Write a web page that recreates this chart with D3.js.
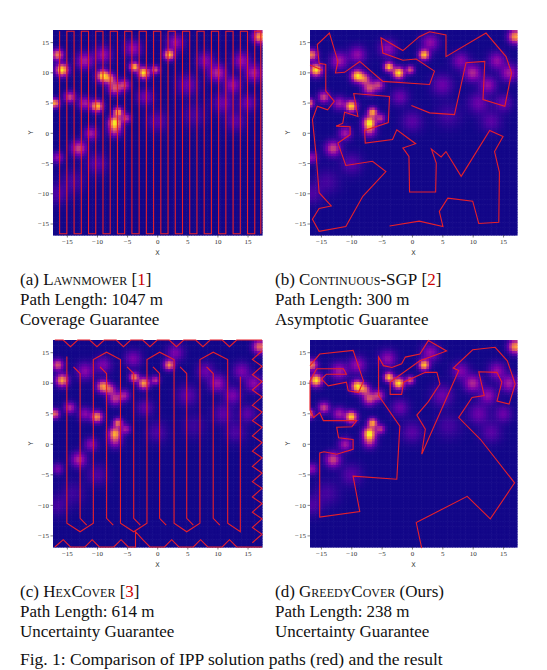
<!DOCTYPE html>
<html><head><meta charset="utf-8">
<script src="https://cdn.jsdelivr.net/npm/d3@7"></script>
<style>body{margin:0;background:#fff}svg{display:block}</style>
</head><body>
<script>
// ---- data ----
const ticks = [-15,-10,-5,0,5,10,15];
const blobX = [-15.8,-16.5,-17,-9,-7.8,-3.8,-2.2,-0.3,2,-10,-7,-6.5,-5.2,-7,-5.5,-13,-12,-14.5,-11,-7,-16.5,-12,-9,3,-4,10,12.5,14,16,17,8,5,11,15,-2,0,6,-14,-10,-16.5,13];
const blobY = [10.5,13,5,9.5,9,11,10,10.5,13,4.5,1.8,3.5,2.5,7.5,8,-2.5,12,6,0,0.5,-4,5,13,15,14,10,8,12,10,16,12,8,5,5,6,2,3,-8,-5,-10,2];
const blobA = [1,0.7,0.8,0.95,0.55,0.9,1,0.55,0.9,0.95,1,0.85,0.45,0.55,0.45,0.5,0.35,0.5,0.35,0.45,0.3,0.35,0.3,0.3,0.3,0.4,0.3,0.3,0.35,0.8,0.25,0.2,0.2,0.2,0.2,0.15,0.1,0.1,0.15,0.12,0.15];
const blobS = [0.65,0.6,0.5,0.65,0.6,0.5,0.6,0.45,0.55,0.6,0.65,0.5,0.5,0.7,0.6,0.8,0.9,0.6,0.7,0.7,0.6,0.7,0.9,0.9,0.9,0.9,0.9,0.9,0.9,0.7,0.9,1.1,1.1,0.9,0.9,1.1,1.3,1.3,1.1,1.1,1.1];

const lawnX = [-16.2,-15.0,-13.8,-12.6,-11.4,-10.2,-9.0,-7.8,-6.6,-5.4,-4.2,-3.0,-1.8,-0.6,0.6,1.8,3.0,4.2,5.4,6.6,7.8,9.0,10.2,11.4,12.6,13.8,15.0,16.2,17.2];
const lawnTop = 16.8, lawnBottom = -16.7;

const sgpPath = [[-0.1,4.5],[2.9,3.3],[7.0,3.0],[8.9,11.6],[12.0,11.8],[11.7,5.5],[15.3,4.4],[16.4,9.9],[15.5,12.6],[12.2,16.5],[5.6,12.6],[5.6,16.2],[2.9,16.7],[1.2,15.9],[-1.5,13.6],[-5.1,15.7],[-4.8,13.2],[-1.5,12.0],[0.7,12.2],[3.7,10.2],[2.9,8.0],[-4.8,8.5],[-8.6,11.8],[-11.1,10.0],[-12.6,9.9],[-12.2,11.8],[-13.6,16.5],[-15.6,14.6],[-15.3,11.5],[-14.2,11.3],[-14.2,6.9],[-12.8,5.2],[-13.9,3.8],[-15.6,4.4],[-16.4,2.2],[-15.8,-3.6],[-15.3,-9.9],[-13.3,-12.1],[-15.3,-12.5],[-16.4,-14.3],[-15.3,-16.3],[-10.9,-15.5],[-8.1,-10.5],[-4.3,-6.4],[-6.5,-4.7],[-10.9,-5.4],[-12.2,-1.7],[-10.2,-0.3],[-10.2,1.0],[-12.5,1.1],[-11.4,1.6],[-11.1,3.4],[-8.9,2.7],[-9.6,6.5],[-3.7,6.0],[-3.9,1.7],[-7.8,0.4],[-7.7,-1.7],[-3.2,-1.1],[-2.5,0.5],[0.6,-1.8],[-1.5,-2.5],[-0.5,-3.9],[-0.4,-9.8],[3.9,-9.8],[4.0,-5.0],[3.2,-2.7],[4.8,-4.0],[5.6,-3.1],[8.1,-7.2],[12.8,0.4],[15.0,-0.6],[13.6,-3.1],[14.4,-6.5],[14.3,-14.8],[11.0,-15.0],[10.0,-11.3],[5.9,-10.8],[4.5,-13.0],[5.1,-15.5],[1.2,-14.6],[-3.7,-15.4]];
const sgpExtra = [[-16.8,11.2],[-14.8,10.4]];

const hexOuter = [[-15,14.3],[-15,-13],[-12.8,-14.4],[-10.6,-13],[-10.6,13.8],[-8.4,15],[-6.1,13.8],[-6.1,-13],[-3.9,-14.4],[-1.7,-13],[-1.7,13.8],[0.4,15],[2.8,13.8],[2.8,-13],[4.9,-14.4],[7.1,-13],[7.1,13.8],[9.3,15],[11.7,13.8],[11.7,-13],[13.8,-14.4],[13.8,11]];
const hexInnerX = [-12.8,-8.4,-3.9,0.4,4.9,9.3];
const hexInnerTop = 11.5, hexInnerBottom = -12.2;
const hexTop = [[-17,17],[-15.6,17],[-14.4,15.9],[-13.2,17],[-11.2,17],[-10,15.9],[-8.8,17],[-6.8,17],[-5.6,15.9],[-4.4,17],[-2.4,17],[-1.2,15.9],[0,17],[2,17],[3.2,15.9],[4.4,17],[6.4,17],[7.6,15.9],[8.8,17],[10.8,17],[12,15.9],[13.2,17],[17.4,17]];
const hexBottom = [[-17,-16.9],[-15.6,-15.7],[-14.4,-16.9],[-12,-16.9],[-10.8,-15.7],[-9.6,-16.9],[-7.2,-16.9],[-6,-15.7],[-4.8,-16.9],[-3.6,-16.9],[-3.6,-14.4],[-2.4,-15.7],[-1.2,-16.9],[1.2,-16.9],[2.4,-15.7],[3.6,-16.9],[6,-16.9],[7.2,-15.7],[8.4,-16.9],[10.8,-16.9],[12,-15.7],[13.2,-16.9],[17.4,-16.9]];
const hexRight = [[17.4,15.2],[15.8,13.8],[17.4,12.7],[15.8,11.3],[17.4,10.2],[15.8,8.8],[17.4,7.7],[15.8,6.3],[17.4,5.2],[15.8,3.8],[17.4,2.7],[15.8,1.3],[17.4,0.2],[15.8,-1.2],[17.4,-2.3],[15.8,-3.7],[17.4,-4.8],[15.8,-6.2],[17.4,-7.3],[15.8,-8.7],[17.4,-9.8],[15.8,-11.2],[17.4,-12.3],[15.8,-13.7],[17.4,-14.8],[15.8,-16.2]];

const greedyPath = [[-16.8,12.8],[-15.2,14.7],[-9.7,15.3],[-8.0,10.3],[-8.8,8.4],[-10.5,8.7],[-10.8,10.1],[-13.8,9.5],[-14.9,10.6],[-14.1,11.4],[-10.8,11.4],[-11.3,12.3],[-15.7,12.3],[-16.8,10.3],[-16.8,5.5],[-16.2,4.3],[-15.2,5.1],[-14.6,3.8],[-9.1,3.8],[-9.9,2.8],[-12.4,2.7],[-12.1,1.0],[-9.7,0.7],[-9.7,-0.9],[-12.4,-1.7],[-14.5,-1.3],[-15.2,-1.5],[-15.2,-12.0],[-8.6,-11.1],[-9.7,-5.3],[-2.5,-5.8],[-2.0,2.9],[-5.5,7.9],[-5.5,14.2],[-4.7,12.8],[-3.3,12.5],[-1.7,13.1],[-1.1,14.2],[1.3,14.7],[2.7,16.9],[5.7,15.2],[1.3,13.6],[-3.6,10.1],[-3.6,8.1],[-1.7,8.1],[-1.4,10.1],[2.2,11.7],[4.1,11.7],[4.6,9.8],[2.7,6.9],[0.8,4.7],[2.2,2.4],[1.6,-1.7],[4.4,4.6],[7.7,12.0],[6.8,12.4],[10.0,15.4],[13.7,15.8],[15.7,13.6],[17.0,9.8],[16.0,6.5],[14.0,7.0],[14.8,10.1],[14.0,11.7],[11.0,11.8],[11.9,7.9],[9.9,7.6],[7.7,4.3],[11.3,0.7],[16.9,-6.4],[12.9,-12.3],[9.1,-8.6],[0.7,-12.9],[1.6,-17.1]];

const captions = [
  {id:"(a)", sc:"Lawnmower", ref:"1", l2:"Path Length: 1047 m", l3:"Coverage Guarantee"},
  {id:"(b)", sc:"Continuous-SGP", ref:"2", l2:"Path Length: 300 m", l3:"Asymptotic Guarantee"},
  {id:"(c)", sc:"HexCover", ref:"3", l2:"Path Length: 614 m", l3:"Uncertainty Guarantee"},
  {id:"(d)", sc:"GreedyCover", ref:null, extra:" (Ours)", l2:"Path Length: 238 m", l3:"Uncertainty Guarantee"}
];

// ---- drawing ----
const W=547,H=670;
const svg=d3.select("body").append("svg").attr("width",W).attr("height",H);
const xDomA=[-17.3,17.4], xDomB=[-16.8,17.3], yDom=[-16.9,17];
const panels=[
  {x:d3.scaleLinear().domain(xDomA).range([53,262]), y:d3.scaleLinear().domain(yDom).range([235,30]), cap:[20,285]},
  {x:d3.scaleLinear().domain(xDomB).range([310,517]), y:d3.scaleLinear().domain(yDom).range([235,30]), cap:[275,285]},
  {x:d3.scaleLinear().domain(xDomA).range([53,262]), y:d3.scaleLinear().domain(yDom).range([547,340]), cap:[20,597]},
  {x:d3.scaleLinear().domain(xDomB).range([310,517]), y:d3.scaleLinear().domain(yDom).range([547,340]), cap:[275,597]}
];
function field(px,py,dim){
  let v=0;
  for(let i=0;i<blobX.length;i++){
    const dx=px-blobX[i],dy=py-blobY[i];
    v+=blobA[i]*Math.exp(-(dx*dx+dy*dy)/(2*blobS[i]*blobS[i]));
  }
  return Math.min(1,v*dim);
}
const N=80;
panels.forEach((p,k)=>{
  const g=svg.append("g");
  const [x0,x1]=p.x.domain(),[y0,y1]=p.y.domain();
  const dx=(x1-x0)/N, dy=(y1-y0)/N;
  const cells=[];
  for(let i=0;i<N;i++)for(let j=0;j<N;j++){
    const cx=x0+(i+0.5)*dx, cy=y0+(j+0.5)*dy;
    cells.push({x:x0+i*dx,y:y0+(j+1)*dy,v:field(cx,cy,k==2?0.8:1)});
  }
  g.selectAll("rect").data(cells).join("rect")
    .attr("x",d=>p.x(d.x)).attr("y",d=>p.y(d.y))
    .attr("width",p.x(x0+dx)-p.x(x0)+0.6).attr("height",p.y(y0)-p.y(y0+dy)+0.6)
    .attr("fill",d=>d3.interpolatePlasma(0.01+0.96*d.v));
  const ax=svg.append("g").attr("transform",`translate(0,${p.y.range()[0]})`)
    .call(d3.axisBottom(p.x).tickValues(ticks).tickSize(2.5).tickPadding(2).tickFormat(d=>d<0?"\u2212"+(-d):d));
  const ay=svg.append("g").attr("transform",`translate(${p.x.range()[0]},0)`)
    .call(d3.axisLeft(p.y).tickValues(ticks).tickSize(2.5).tickFormat(d=>d<0?"\u2212"+(-d):d));
  [ax,ay].forEach(a=>{a.select(".domain").remove();a.selectAll("text").attr("font-family","Liberation Serif").attr("font-size",7).attr("fill","#333");a.selectAll("line").attr("stroke","#333").attr("stroke-width",0.6);});
  ay.selectAll("text").attr("x",-4);
  svg.append("text").attr("x",(p.x.range()[0]+p.x.range()[1])/2).attr("y",p.y.range()[0]+20).attr("text-anchor","middle").attr("font-family","DejaVu Sans").attr("font-size",6.5).attr("fill","#333").text("X");
  svg.append("text").attr("transform",`translate(${p.x.range()[0]-20},${(p.y.range()[0]+p.y.range()[1])/2}) rotate(-90)`).attr("text-anchor","middle").attr("font-family","DejaVu Sans").attr("font-size",6.5).attr("fill","#333").text("Y");
  const line=d3.line().x(d=>p.x(d[0])).y(d=>p.y(d[1]));
  const pg=svg.append("g").attr("fill","none").attr("stroke","#e8202a").attr("stroke-width",1.1).attr("stroke-linejoin","miter");
  if(k==0){
    const pts=[];
    lawnX.forEach((x,i)=>{const a=i%2==0;pts.push([x,a?lawnTop:lawnBottom],[x,a?lawnBottom:lawnTop]);});
    pg.append("path").attr("d",line(pts));
  } else if(k==1){
    pg.append("path").attr("d",line(sgpPath));
    pg.append("path").attr("d",line(sgpExtra));
  } else if(k==2){
    pg.append("path").attr("d",line(hexOuter));
    hexInnerX.forEach(x=>pg.append("path").attr("d",line([[x-1.1,hexInnerTop+1.1],[x,hexInnerTop],[x,hexInnerBottom],[x+1.1,hexInnerBottom-1.1]])));
    pg.append("path").attr("d",line(hexTop));
    pg.append("path").attr("d",line(hexBottom));
    pg.append("path").attr("d",line(hexRight));
  } else {
    pg.append("path").attr("d",line(greedyPath));
  }
  const c=captions[k];
  const t=svg.append("text").attr("x",p.cap[0]).attr("y",p.cap[1]).attr("font-family","Liberation Serif").attr("font-size",17).attr("fill","#111");
  t.append("tspan").text(c.id+" ");
  t.append("tspan").attr("font-variant","small-caps").text(c.sc);
  if(c.ref){t.append("tspan").text(" [");t.append("tspan").attr("fill","#c00").text(c.ref);t.append("tspan").text("]");}
  if(c.extra)t.append("tspan").text(c.extra);
  svg.append("text").attr("x",p.cap[0]).attr("y",p.cap[1]+20).attr("font-family","Liberation Serif").attr("font-size",17).attr("fill","#111").text(c.l2);
  svg.append("text").attr("x",p.cap[0]).attr("y",p.cap[1]+40).attr("font-family","Liberation Serif").attr("font-size",17).attr("fill","#111").text(c.l3);
});
svg.append("text").attr("x",20).attr("y",665).attr("font-family","Liberation Serif").attr("font-size",17.5).attr("fill","#111").text("Fig. 1: Comparison of IPP solution paths (red) and the result");
</script>
</body></html>
